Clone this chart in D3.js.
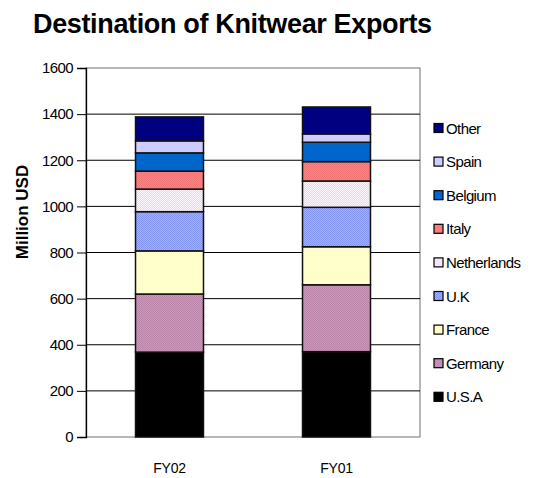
<!DOCTYPE html>
<html>
<head>
<meta charset="utf-8">
<script src="https://cdn.jsdelivr.net/npm/d3@7"></script>
<style>
  body { margin: 0; background: #fff; }
  text { font-family: 'Liberation Sans', Arial, sans-serif; }
</style>
</head>
<body>
<svg id="svg-chart" width="536" height="478"></svg>
<script>
//////////////////////////////////////////////////////////////////////////////////////////
// Data
//////////////////////////////////////////////////////////////////////////////////////////

var years = ['FY02', 'FY01']
var countries = ['U.S.A', 'Germany', 'France', 'U.K', 'Netherlands', 'Italy', 'Belgium', 'Spain', 'Other']

// Million USD, one value per year
var usa_values = [368, 370]
var germany_values = [252, 290]
var france_values = [187, 165]
var uk_values = [170, 171]
var netherlands_values = [98, 114]
var italy_values = [78, 84]
var belgium_values = [79, 84]
var spain_values = [52, 36]
var other_values = [104, 117]

var y_ticks = [0, 200, 400, 600, 800, 1000, 1200, 1400, 1600]

var series_values = [
  usa_values, germany_values, france_values, uk_values, netherlands_values,
  italy_values, belgium_values, spain_values, other_values
]

var table = years.map(function(year, i) {
  var row = { year: year }
  countries.forEach(function(c, j) { row[c] = series_values[j][i] })
  return row
})

//////////////////////////////////////////////////////////////////////////////////////////
// Layout
//////////////////////////////////////////////////////////////////////////////////////////

var svg = d3.select('#svg-chart')
var plot = { left: 86, right: 420, top: 68, bottom: 437 }

var x = d3.scaleBand()
  .domain(years)
  .range([plot.left, plot.right])
  .paddingInner(0.593)
  .paddingOuter(0.2965)

var y = d3.scaleLinear()
  .domain([0, 1600])
  .range([plot.bottom, plot.top])

// fills: [main colour, pattern colour or null]
var fills = {
  'U.S.A': ['#000000', null],
  'Germany': ['#cf97bd', '#b984a8'],
  'France': ['#ffffcc', null],
  'U.K': ['#9fb0ff', '#8496f0'],
  'Netherlands': ['#ead8ec', '#fbf4fb'],
  'Italy': ['#ff8080', '#f27676'],
  'Belgium': ['#0066cc', null],
  'Spain': ['#ccccff', null],
  'Other': ['#000080', null]
}

//////////////////////////////////////////////////////////////////////////////////////////
// Patterns
//////////////////////////////////////////////////////////////////////////////////////////

var defs = svg.append('defs')

countries.forEach(function(c, i) {
  if (!fills[c][1]) return
  var pat = defs.append('pattern')
    .attr('id', 'pat-' + i)
    .attr('patternUnits', 'userSpaceOnUse')
    .attr('width', 2)
    .attr('height', 2)
  pat.append('rect').attr('width', 2).attr('height', 2).attr('fill', fills[c][0])
  pat.append('rect').attr('width', 1).attr('height', 1).attr('fill', fills[c][1])
  pat.append('rect').attr('x', 1).attr('y', 1).attr('width', 1).attr('height', 1).attr('fill', fills[c][1])
})

function fill_of(c) {
  var i = countries.indexOf(c)
  return fills[c][1] ? 'url(#pat-' + i + ')' : fills[c][0]
}

//////////////////////////////////////////////////////////////////////////////////////////
// Title
//////////////////////////////////////////////////////////////////////////////////////////

svg.append('text')
  .attr('x', 33)
  .attr('y', 33)
  .attr('font-size', 27)
  .attr('font-weight', 'bold')
  .attr('letter-spacing', -0.35)
  .text('Destination of Knitwear Exports')

//////////////////////////////////////////////////////////////////////////////////////////
// Grid and axes
//////////////////////////////////////////////////////////////////////////////////////////

// plot frame (grey)
svg.append('rect')
  .attr('x', plot.left)
  .attr('y', plot.top)
  .attr('width', plot.right - plot.left)
  .attr('height', plot.bottom - plot.top)
  .attr('fill', 'none')
  .attr('stroke', '#888')
  .attr('stroke-width', 1.2)

svg.append('g')
  .selectAll('line')
  .data(y_ticks.filter(function(d) { return d > 0 && d < 1600 }))
  .enter()
  .append('line')
  .attr('x1', plot.left)
  .attr('x2', plot.right)
  .attr('y1', function(d) { return y(d) })
  .attr('y2', function(d) { return y(d) })
  .attr('stroke', '#000')
  .attr('stroke-width', 1)

var y_axis = svg.append('g')
  .attr('transform', 'translate(' + plot.left + ',0)')
  .call(d3.axisLeft(y).tickValues(y_ticks).tickFormat(d3.format('d')).tickSize(9).tickPadding(4))

y_axis.select('.domain').attr('stroke', '#000').attr('stroke-width', 1.3)
y_axis.selectAll('.tick line').attr('stroke', '#000')
y_axis.selectAll('text')
  .attr('font-size', 15)
  .attr('letter-spacing', -0.6)
  .attr('fill', '#000')
  .style('font-family', "'Liberation Sans', Arial, sans-serif")

svg.append('text')
  .attr('transform', 'translate(28,212) rotate(-90)')
  .attr('text-anchor', 'middle')
  .attr('font-size', 17)
  .attr('font-weight', 'bold')
  .text('Million USD')

svg.append('g')
  .selectAll('text')
  .data(years)
  .enter()
  .append('text')
  .attr('x', function(d) { return x(d) + x.bandwidth() / 2 })
  .attr('y', 473)
  .attr('text-anchor', 'middle')
  .attr('font-size', 14)
  .attr('letter-spacing', -0.3)
  .text(function(d) { return d })

//////////////////////////////////////////////////////////////////////////////////////////
// Stacked bars
//////////////////////////////////////////////////////////////////////////////////////////

var stacked = d3.stack().keys(countries)(table)

svg.append('g')
  .selectAll('g')
  .data(stacked)
  .enter()
  .append('g')
  .attr('fill', function(d) { return fill_of(d.key) })
  .selectAll('rect')
  .data(function(d) { return d })
  .enter()
  .append('rect')
  .attr('x', function(d) { return x(d.data.year) })
  .attr('y', function(d) { return y(d[1]) })
  .attr('width', x.bandwidth())
  .attr('height', function(d) { return y(d[0]) - y(d[1]) })
  .attr('stroke', '#111')
  .attr('stroke-width', 1.5)

//////////////////////////////////////////////////////////////////////////////////////////
// Legend
//////////////////////////////////////////////////////////////////////////////////////////

var legend_items = countries.slice().reverse()

var legend = svg.append('g')
  .selectAll('g')
  .data(legend_items)
  .enter()
  .append('g')
  .attr('transform', function(d, i) { return 'translate(434,' + (128 + i * 33.6) + ')' })

legend.append('rect')
  .attr('x', 0)
  .attr('y', -4.5)
  .attr('width', 9)
  .attr('height', 9)
  .attr('fill', function(d) { return fill_of(d) })
  .attr('stroke', '#000')
  .attr('stroke-width', 1.2)

legend.append('text')
  .attr('x', 12)
  .attr('y', 5.5)
  .attr('font-size', 15)
  .attr('letter-spacing', -0.6)
  .text(function(d) { return d })
</script>
</body>
</html>
